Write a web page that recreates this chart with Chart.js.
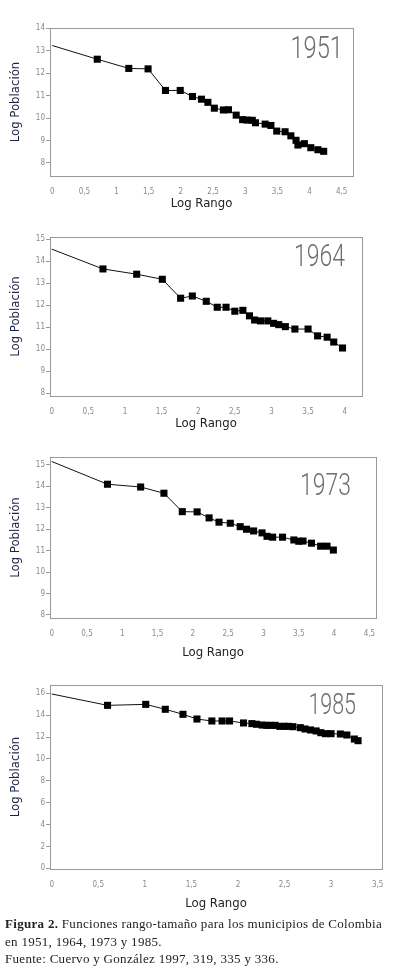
<!DOCTYPE html>
<html>
<head>
<meta charset="utf-8">
<script src="https://cdn.jsdelivr.net/npm/chart.js@4.4.0/dist/chart.umd.min.js"></script>
<style>
  body { margin: 0; background: #fff; width: 393px; height: 973px; position: relative; overflow: hidden; }
  canvas { position: absolute; left: 0; }
  #caption { position: absolute; left: 5px; top: 915px; font-family: "Liberation Serif", serif; font-size: 13px; letter-spacing: 0.3px; line-height: 17.5px; color: #222; white-space: nowrap; }
</style>
</head>
<body>
<canvas id="c1951" width="393" height="200" style="top:18px"></canvas>
<canvas id="c1964" width="393" height="210" style="top:228px"></canvas>
<canvas id="c1973" width="393" height="219" style="top:448px"></canvas>
<canvas id="c1985" width="393" height="242" style="top:676px"></canvas>
<div id="caption"><b>Figura 2.</b> Funciones rango-tamaño para los municipios de Colombia<br>en 1951, 1964, 1973 y 1985.<br>Fuente: Cuervo y González 1997, 319, 335 y 336.</div>
<script>
// log rango / log poblacion
let rango1951 = [0, 0.70, 1.19, 1.49, 1.76, 1.99, 2.18, 2.32, 2.42, 2.52, 2.66, 2.74, 2.86, 2.96, 3.03, 3.11, 3.16, 3.31, 3.40, 3.49, 3.62, 3.71, 3.79, 3.82, 3.92, 4.02, 4.13, 4.22];
let poblacion1951 = [13.23, 12.62, 12.21, 12.19, 11.23, 11.23, 10.96, 10.84, 10.70, 10.44, 10.36, 10.37, 10.13, 9.93, 9.91, 9.90, 9.79, 9.73, 9.67, 9.42, 9.39, 9.21, 9.01, 8.80, 8.86, 8.68, 8.59, 8.52];

let rango1964 = [0, 0.70, 1.16, 1.51, 1.76, 1.92, 2.11, 2.26, 2.38, 2.50, 2.61, 2.70, 2.77, 2.85, 2.95, 3.03, 3.10, 3.19, 3.32, 3.50, 3.63, 3.76, 3.85, 3.97];
let poblacion1964 = [14.55, 13.65, 13.41, 13.18, 12.32, 12.42, 12.18, 11.91, 11.91, 11.73, 11.77, 11.52, 11.33, 11.29, 11.29, 11.18, 11.12, 11.03, 10.92, 10.92, 10.61, 10.55, 10.33, 10.06];

let rango1973 = [0, 0.79, 1.26, 1.59, 1.85, 2.06, 2.23, 2.37, 2.53, 2.67, 2.76, 2.86, 2.98, 3.05, 3.13, 3.27, 3.43, 3.50, 3.56, 3.68, 3.81, 3.90, 3.99];
let poblacion1973 = [15.16, 14.10, 13.97, 13.68, 12.82, 12.81, 12.53, 12.33, 12.28, 12.12, 12.00, 11.92, 11.83, 11.67, 11.63, 11.63, 11.50, 11.44, 11.45, 11.35, 11.21, 11.21, 11.03];

let rango1985 = [0, 0.60, 1.01, 1.22, 1.41, 1.56, 1.72, 1.83, 1.91, 2.06, 2.15, 2.20, 2.26, 2.31, 2.35, 2.40, 2.45, 2.50, 2.54, 2.59, 2.67, 2.72, 2.78, 2.84, 2.89, 2.94, 3.00, 3.10, 3.17, 3.25, 3.29];
let poblacion1985 = [15.94, 14.90, 14.99, 14.54, 14.08, 13.65, 13.47, 13.47, 13.47, 13.29, 13.23, 13.17, 13.10, 13.07, 13.07, 13.07, 12.98, 12.98, 12.98, 12.95, 12.86, 12.74, 12.65, 12.56, 12.40, 12.31, 12.31, 12.28, 12.19, 11.82, 11.67];

// tick labels
let xTicks1951 = [0, 0.5, 1, 1.5, 2, 2.5, 3, 3.5, 4, 4.5];
let yTicks1951 = [8, 9, 10, 11, 12, 13, 14];
let xTicks1964 = [0, 0.5, 1, 1.5, 2, 2.5, 3, 3.5, 4];
let yTicks1964 = [8, 9, 10, 11, 12, 13, 14, 15];
let xTicks1973 = [0, 0.5, 1, 1.5, 2, 2.5, 3, 3.5, 4, 4.5];
let yTicks1973 = [8, 9, 10, 11, 12, 13, 14, 15];
let xTicks1985 = [0, 0.5, 1, 1.5, 2, 2.5, 3, 3.5];
let yTicks1985 = [0, 2, 4, 6, 8, 10, 12, 14, 16];

const narrow = '"Liberation Sans Narrow", "DejaVu Sans Condensed", sans-serif';

// frame round the plot area + big year label inside it
const framePlugin = {
  id: 'frame',
  afterDraw(chart, args, opts) {
    const { ctx, chartArea: a } = chart;
    ctx.save();
    ctx.strokeStyle = '#9a9a9a';
    ctx.lineWidth = 1;
    ctx.strokeRect(Math.round(a.left) + 0.5, Math.round(a.top) + 0.5, Math.round(a.right - a.left), Math.round(a.bottom - a.top));
    ctx.fillStyle = '#6e6e6e';
    ctx.font = '300 ' + opts.size + 'px Roboto, sans-serif';
    ctx.textAlign = 'right';
    ctx.textBaseline = 'middle';
    ctx.translate(a.right - opts.dx, a.top + opts.dy);
    ctx.scale(0.74, 1);
    ctx.fillText(opts.text, 0, 0);
    ctx.restore();
  }
};

function comma(v) {
  return String(v).replace('.', ',');
}

function makeChart(id, year, rango, poblacion, xTicks, yTicks, lim, lay) {
  const points = rango.map((x, i) => ({ x: x, y: poblacion[i] }));
  new Chart(document.getElementById(id), {
    type: 'scatter',
    data: {
      datasets: [{
        data: points,
        showLine: true,
        borderColor: '#111',
        borderWidth: 1,
        backgroundColor: '#000',
        pointStyle: 'rect',
        pointRadius: points.map((p, i) => i === 0 ? 0 : 5),
        pointBorderWidth: 0
      }]
    },
    options: {
      responsive: false,
      animation: false,
      layout: { padding: { top: lay.pt, right: lay.pr, bottom: 4, left: 0 } },
      plugins: {
        legend: { display: false },
        tooltip: { enabled: false },
        frame: { text: year, dx: lay.dx, dy: lay.dy, size: lay.size }
      },
      scales: {
        x: {
          type: 'linear',
          min: lim[0], max: lim[1],
          afterBuildTicks: s => { s.ticks = xTicks.map(v => ({ value: v })); },
          afterFit: s => { s.height = lay.hx; },
          grid: { display: false },
          border: { display: false },
          ticks: { callback: v => comma(v), color: '#8a8a8a', font: { family: narrow, size: 8 }, padding: 3, maxRotation: 0, autoSkip: false },
          title: { display: true, text: 'Log Rango', color: '#222', font: { family: narrow, size: 13 }, padding: { top: 4, bottom: 3 } }
        },
        y: {
          min: lim[2], max: lim[3],
          afterBuildTicks: s => { s.ticks = yTicks.map(v => ({ value: v })); },
          afterFit: s => { s.width = 50; },
          grid: { drawOnChartArea: false, color: '#9a9a9a', tickLength: 4 },
          border: { display: false },
          ticks: { callback: v => comma(v), color: '#8a8a8a', font: { family: narrow, size: 8 }, padding: 1, autoSkip: false },
          title: { display: true, text: 'Log Población', color: '#1c2445', font: { family: narrow, size: 13 }, padding: { top: 8, bottom: 0 } }
        }
      }
    },
    plugins: [framePlugin]
  });
}

makeChart('c1951', '1951', rango1951, poblacion1951, xTicks1951, yTicks1951, [-0.035, 4.676, 7.42, 14.01], { pt: 10, pr: 40, hx: 38, dx: 10, dy: 22, size: 32 });
makeChart('c1964', '1964', rango1964, poblacion1964, xTicks1964, yTicks1964, [-0.023, 4.236, 7.88, 15.1], { pt: 9, pr: 31, hx: 38, dx: 17, dy: 21, size: 31 });
makeChart('c1973', '1973', rango1973, poblacion1973, xTicks1973, yTicks1973, [-0.024, 4.594, 7.86, 15.37], { pt: 9, pr: 17, hx: 45, dx: 25, dy: 30, size: 31 });
makeChart('c1985', '1985', rango1985, poblacion1985, xTicks1985, yTicks1985, [-0.018, 3.547, -0.06, 16.76], { pt: 9, pr: 11, hx: 45, dx: 26, dy: 22, size: 29 });
</script>
</body>
</html>
